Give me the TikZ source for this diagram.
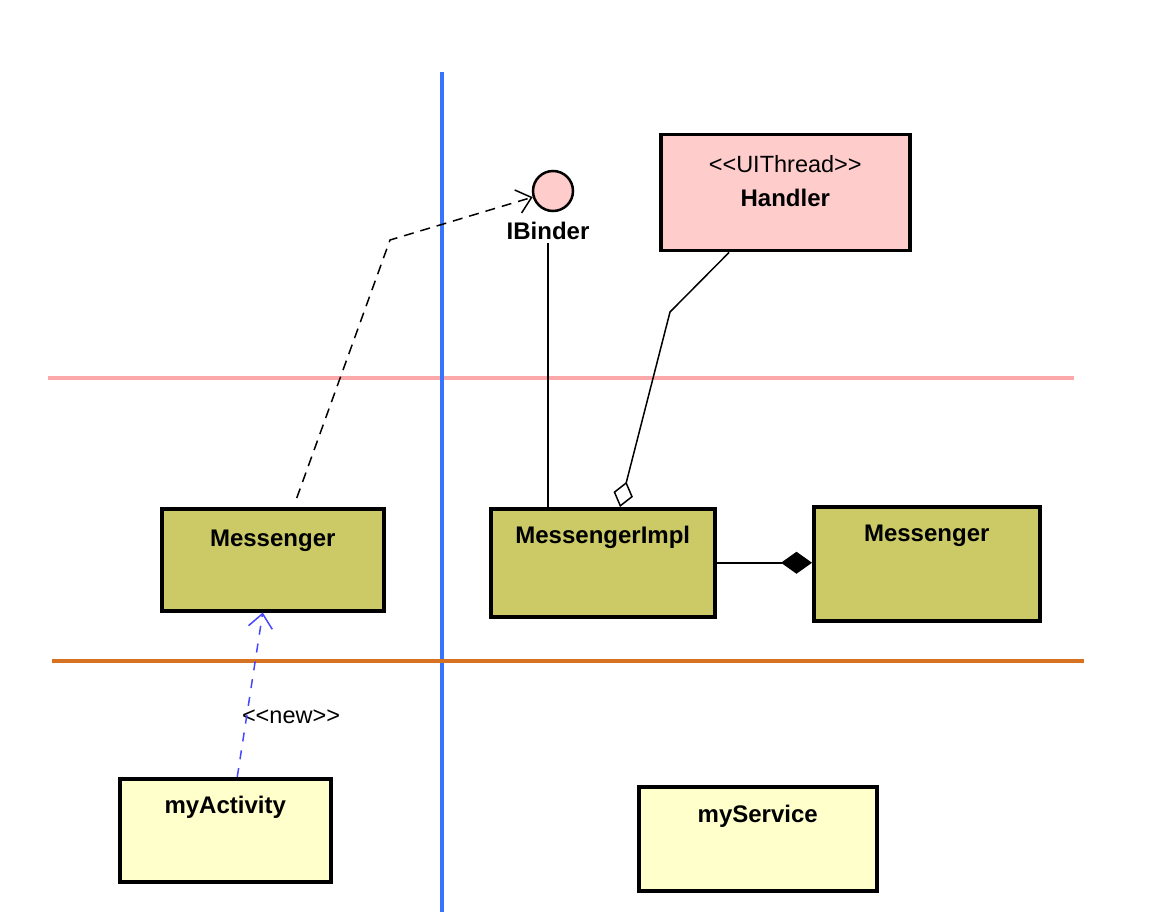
\documentclass[tikz,border=0pt]{standalone}
\usepackage{fontspec}
\setmainfont{Liberation Sans}
\usetikzlibrary{arrows.meta,positioning}
\definecolor{olivebox}{RGB}{203,202,103}
\definecolor{paleyel}{RGB}{255,255,204}
\definecolor{rosebox}{RGB}{255,204,204}
\definecolor{lanebleu}{RGB}{55,115,255}
\definecolor{lanerose}{RGB}{252,168,170}
\definecolor{laneorange}{RGB}{214,114,34}
\definecolor{newbleu}{RGB}{70,70,255}
\newcommand\boldtxt{\fontsize{24}{28}\selectfont\bfseries}
\newcommand\thintxt{\fontsize{23.5}{28}\selectfont\mdseries}

\begin{document}
\begin{tikzpicture}[x=1pt,y=-1pt]%
        \useasboundingbox (0,0) rectangle (1154,912);%%
        %% lanes
        \draw[lanerose,line width=3.5pt] (48,378) -- (1074,378);%%
        \draw[lanebleu,line width=3.5pt] (442,72) -- (442,912);%%
        \draw[laneorange,line width=3.5pt] (52,661) -- (1084,661);%%
        \begin{scope}[shape=rectangle]
        \tikzstyle{every node}=[draw,line width=3.5pt,inner sep=0pt,anchor=north west,font=\boldtxt] %%
        \node[fill=olivebox,minimum width=222pt,minimum height=102pt,text height=38pt,text depth=64pt] (msgl) at (160,507) {Messenger}; %%
        \node[fill=olivebox,minimum width=224pt,minimum height=108pt,text height=35pt,text depth=73pt] (impl) at (489,507) {MessengerImpl}; %%
        \node[fill=olivebox,minimum width=226pt,minimum height=114pt,text height=35pt,text depth=79pt] (msgr) at (812,505) {Messenger}; %%
        \node[fill=paleyel,minimum width=211pt,minimum height=103pt,text height=35pt,text depth=68pt] (act) at (118,777) {myActivity}; %%
        \node[fill=paleyel,minimum width=238pt,minimum height=104pt,text height=36pt,text depth=68pt] (svc) at (637,785) {myService}; %%
        \node[fill=rosebox,minimum width=249pt,minimum height=116pt,text height=72pt,text depth=44pt,align=center] (hnd) at (659,133) {{\thintxt <{}<UIThread>{}>}\\[6pt] Handler}; %%
        \end{scope}
        \node[circle,draw,line width=2.5pt,fill=rosebox,minimum size=40pt,inner sep=0pt] (ib) at (553,191) {}; %%
        \node[font=\boldtxt] (ibl) at (548,231) {IBinder}; %%
        \node[font=\thintxt] (newl) at (291,717) {<{}<new>{}>}; %%
        \coordinate (dk) at (390,240); %%
        \coordinate (hk) at (670,312); %%
        \draw[line width=1.5pt,dash pattern=on 10pt off 7pt,-{Straight Barb[length=14pt,width=24pt]}] ([xshift=24pt,yshift=9pt]msgl.north) -- (dk) -- (ib); %%
        \draw[line width=1.5pt] (ibl.south) -- (ibl.south |- impl.north); %%
        \draw[line width=1.5pt,-{Diamond[open,length=26pt,width=20pt]}] ([xshift=70pt]hnd.south west) -- (hk) -- ([xshift=131pt]impl.north west); %%
        \draw[line width=1.5pt,-{Diamond[length=31pt,width=22pt]}] (impl.east) -- (impl.east -| msgr.west); %%
        \draw[newbleu,line width=1.5pt,dash pattern=on 9pt off 9pt,-{Straight Barb[length=14pt,width=24pt]}] ([xshift=12pt]act.north) -- ([xshift=-10pt]msgl.south); %%
\end{tikzpicture}
\end{document}
